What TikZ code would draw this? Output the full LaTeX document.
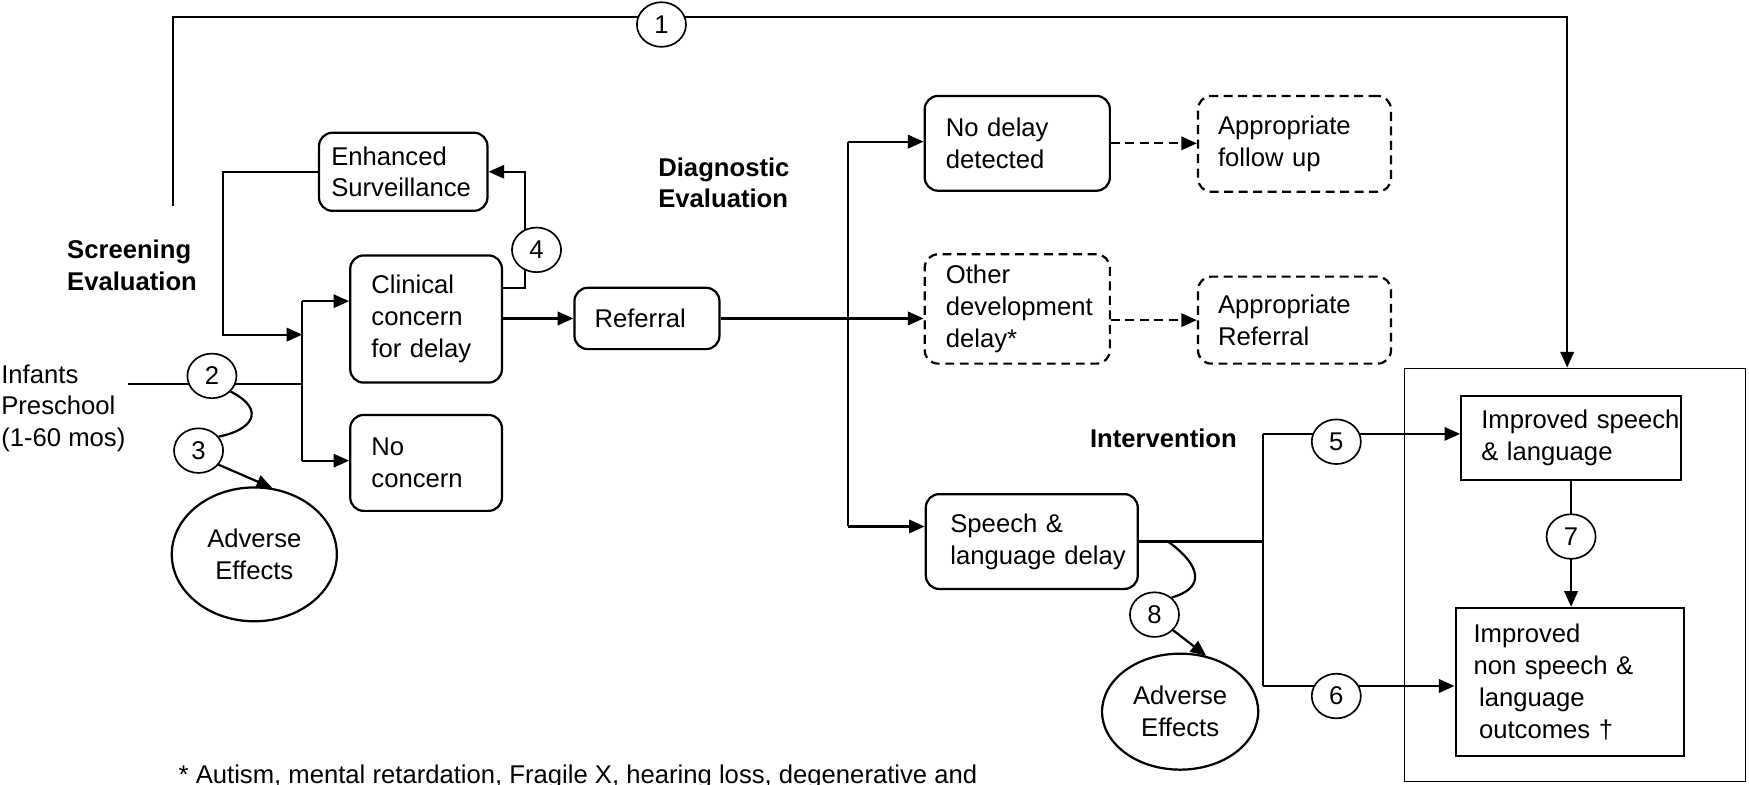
\documentclass[tikz,border=0pt]{standalone}
\usepackage{fontspec}
\setmainfont{Liberation Sans}
\usetikzlibrary{arrows.meta,shapes.geometric,backgrounds}
\begin{document}
\begin{tikzpicture}[x=1pt,y=-1pt,
  every node/.style={font=\fontsize{23}{28.5}\selectfont},
  ln/.style={line width=2pt},
  arr/.style={ln,-{Triangle[length=14pt,width=12pt]}},
  darr/.style={arr,dash pattern=on 8pt off 5pt},
  box/.style={draw,line width=2pt,rounded corners=12pt,inner ysep=0pt,align=left},
  dbox/.style={box,dash pattern=on 8pt off 5pt},
  sbox/.style={draw,line width=2pt,inner ysep=0pt,align=left},
  num/.style={draw,ellipse,line width=1.5pt,fill=white,minimum width=44pt,minimum height=40pt,inner sep=0pt},
  adv/.style={draw,ellipse,line width=2pt,align=center,inner sep=0pt},
  lbl/.style={anchor=west,align=left,inner sep=0pt},
  blbl/.style={lbl,font=\fontsize{23}{28.5}\selectfont\bfseries}
]
\useasboundingbox (0,0) rectangle (1568,703);

% boxes (width = text width + 2 inner xsep)
\node[box,inner xsep=11pt,text width=129pt,minimum height=70pt] (enh) at (361.5,154) {Enhanced\\\mbox{Surveillance}};
\node[box,inner xsep=19pt,text width=98pt,minimum height=114pt] (clin) at (382,286) {Clinical\\concern\\\mbox{for delay}};
\node[box,inner xsep=19pt,text width=98pt,minimum height=86pt] (nocon) at (382,415) {No\\concern};
\node[box,inner xsep=18pt,text width=94pt,minimum height=55pt] (ref) at (580,285.5) {Referral};
\node[box,inner xsep=19pt,text width=128pt,minimum height=85pt] (nod) at (912,128.5) {\mbox{No delay}\\detected};
\node[dbox,inner xsep=18pt,text width=137pt,minimum height=86pt] (afu) at (1160.5,129) {Appropriate\\\mbox{follow up}};
\node[dbox,inner xsep=19pt,text width=128pt,minimum height=98pt] (oth) at (912,277) {Other\\\mbox{development}\\delay*};
\node[dbox,inner xsep=18pt,text width=137pt,minimum height=78pt] (aref) at (1160.5,287) {Appropriate\\Referral};
\node[box,inner xsep=22pt,text width=146pt,minimum height=85pt] (sld) at (925,485.5) {\mbox{Speech \&}\\\mbox{language delay}};
\node[draw,line width=1pt,minimum width=306pt,minimum height=371pt,inner sep=0pt] (outer) at (1412,515.5) {};
\node[sbox,inner xsep=18pt,text width=161pt,minimum height=75pt] (isl) at (1408.5,392.5) {\mbox{Improved speech}\\\mbox{\& language}};
\node[sbox,inner xsep=16pt,text width=173pt,minimum height=133pt] (inon) at (1407.5,611.5) {Improved\\\mbox{non speech \&}\\\mbox{\hspace*{5pt}language}\\\mbox{\hspace*{5pt}outcomes †}};

% ellipses
\node[adv,minimum width=148pt,minimum height=120pt] (adv1) at (228,497) {Adverse\\Effects};
\node[adv,minimum width=140pt,minimum height=104pt] (adv2) at (1058,638) {Adverse\\Effects};

% labels
\node[lbl] (inf) at (1,366) {Infants\\Preschool\\(1-60 mos)};
\node[blbl] (scr) at (60,238) {Screening\\Evaluation};
\node[blbl] (diag) at (590,164) {Diagnostic\\Evaluation};
\node[blbl] (int) at (977,393) {Intervention};
\node[anchor=base west,inner sep=0pt] (foot) at (160,702) {* Autism, mental retardation, Fragile X, hearing loss, degenerative and};

% numbered circles
\node[num] (c1) at (593,22) {1};
\node[num] (c2) at (190,337) {2};
\node[num] (c3) at (178,404) {3};
\node[num] (c4) at (481,224) {4};
\node[num] (c5) at (1198,396) {5};
\node[num] (c6) at (1198,624) {6};
\node[num] (c7) at (1408.5,481) {7};
\node[num] (c8) at (1035,551) {8};

\begin{pgfonlayer}{background}
\coordinate (s0) at (155,185);
\coordinate (s1) at (155,15);
\coordinate (s2) at (1405,15);
\draw[arr] (s0) -- (s1) -- (s2) -- (s2 |- outer.north);

\coordinate (i0) at (115,344);
\coordinate (b0) at (271,344);
\coordinate (b1) at (271,270);
\coordinate (b2) at (271,413);
\draw[ln] (i0) -- (b0);
\draw[ln] (b1) -- (b2);
\draw[arr] (b1) -- (b1 -| clin.west);
\draw[arr] (b2) -- (b2 -| nocon.west);
\coordinate (e1) at (200,300);
\draw[arr] (enh.west) -| (e1) -- (e1 -| b1);

\coordinate (k1) at (471,258);
\draw[arr] (k1 -| clin.east) -- (k1) |- (enh.east);
\draw[arr] (clin.east |- ref.west) -- (ref.west);
\draw[arr] (ref.east) -- (ref.east -| oth.west);

\coordinate (d1) at (760,127);
\coordinate (d2) at (760,472);
\draw[ln] (d1) -- (d2);
\draw[arr] (d1) -- (d1 -| nod.west);
\draw[arr] (d2) -- (d2 -| sld.west);
\draw[darr] (nod.east) -- (nod.east -| afu.west);
\draw[darr] (aref.west -| oth.east) -- (aref.west);

\coordinate (j1) at (1132,389);
\coordinate (j2) at (1132,615);
\draw[ln] (sld.east) -- (sld.east -| j1);
\draw[ln] (j1) -- (j2);
\draw[arr] (j1) -- (j1 -| isl.west);
\draw[arr] (j2) -- (j2 -| inon.west);
\draw[arr] (isl.south) -- (isl.south |- inon.north);

\draw[ln] (c2.-40) .. controls (240,368) and (225,386) .. (c3.35);
\draw[arr] (c3.-35) -- (adv1.75);
\coordinate (q8) at (1047,485.5);
\draw[ln] (q8) .. controls (1068,500) and (1088,525) .. (c8.45);
\draw[arr] (c8.-40) -- (adv2.65);
\end{pgfonlayer}
\end{tikzpicture}
\end{document}
